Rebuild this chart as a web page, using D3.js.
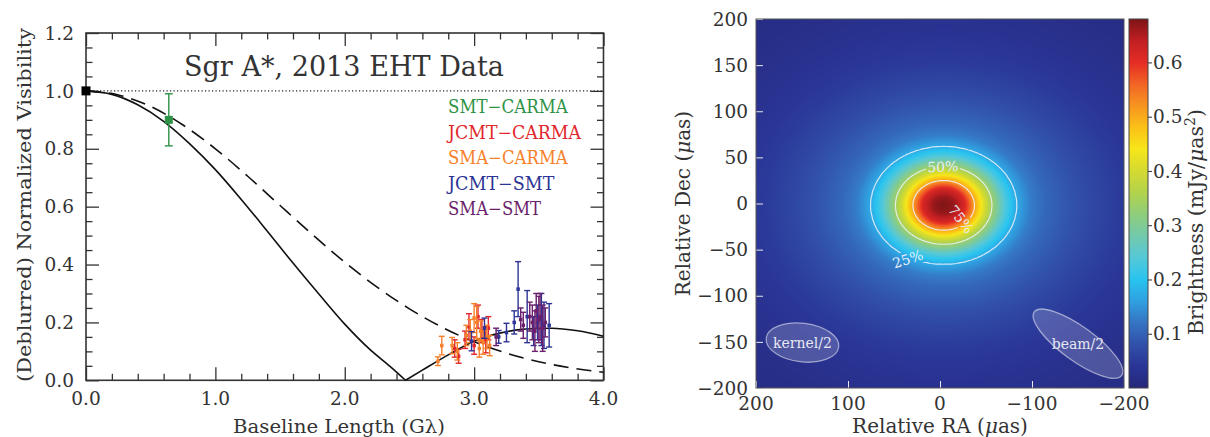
<!DOCTYPE html>
<html>
<head>
<meta charset="utf-8">
<script src="https://cdn.jsdelivr.net/npm/d3@7"></script>
<style>
body { margin: 0; background: #fff; }
svg text { font-family: "DejaVu Serif", serif; fill: #333; }
</style>
</head>
<body>
<svg id="chart" width="1210" height="437"></svg>
<script>
// ---------- left panel: visibility vs baseline ----------
const solidMainB = [0, 0.2, 0.4, 0.6, 0.8, 1.0, 1.2, 1.4, 1.6, 1.8, 2.0, 2.2, 2.35, 2.47];
const solidMainV = [1.0, 0.988, 0.952, 0.895, 0.818, 0.728, 0.625, 0.516, 0.405, 0.298, 0.194, 0.104, 0.048, 0.0];
const solidLobeB = [2.47, 2.6, 2.8, 3.0, 3.2, 3.4, 3.6, 3.8, 4.0];
const solidLobeV = [0.0, 0.035, 0.088, 0.135, 0.163, 0.177, 0.18, 0.171, 0.152];
const dashB = [0, 0.25, 0.5, 0.75, 1.0, 1.25, 1.5, 1.75, 2.0, 2.25, 2.5, 2.75, 3.0, 3.25, 3.5, 3.75, 4.0];
const dashV = [1.0, 0.986, 0.946, 0.882, 0.80, 0.705, 0.604, 0.504, 0.408, 0.322, 0.247, 0.184, 0.133, 0.094, 0.064, 0.043, 0.028];

const zeroBaseline = [0, 1.0];
// [baseline (Gλ), visibility, error]
const smtCarma = [[0.64, 0.90, 0.09]];
const jcmtCarma = [[2.85, 0.11, 0.03], [2.88, 0.083, 0.024], [2.93, 0.14, 0.03], [2.96, 0.185, 0.045],
  [3.0, 0.12, 0.03], [3.03, 0.22, 0.04], [3.06, 0.17, 0.04], [3.09, 0.14, 0.045], [3.11, 0.18, 0.04]];
const smaCarma = [[2.72, 0.066, 0.015], [2.75, 0.12, 0.032], [2.83, 0.12, 0.028], [2.87, 0.10, 0.03],
  [2.94, 0.155, 0.035], [2.97, 0.17, 0.04], [3.0, 0.215, 0.05], [3.02, 0.20, 0.055], [3.04, 0.11, 0.03],
  [3.05, 0.17, 0.035], [3.07, 0.13, 0.04], [3.10, 0.15, 0.04], [3.12, 0.12, 0.035]];
const jcmtSmt = [[2.98, 0.135, 0.033], [3.08, 0.18, 0.035], [3.19, 0.15, 0.022], [3.25, 0.165, 0.032],
  [3.31, 0.20, 0.04], [3.34, 0.315, 0.095], [3.41, 0.22, 0.09], [3.46, 0.17, 0.05], [3.49, 0.20, 0.06],
  [3.52, 0.21, 0.09], [3.54, 0.19, 0.08], [3.58, 0.19, 0.075]];
const smaSmt = [[3.17, 0.15, 0.03], [3.36, 0.21, 0.04], [3.38, 0.19, 0.045], [3.43, 0.22, 0.05],
  [3.45, 0.20, 0.06], [3.47, 0.17, 0.07], [3.48, 0.24, 0.06], [3.50, 0.21, 0.08], [3.51, 0.22, 0.08],
  [3.53, 0.18, 0.08], [3.55, 0.20, 0.05]];

const baselineNames = ["SMT\u2212CARMA", "JCMT\u2212CARMA", "SMA\u2212CARMA", "JCMT\u2212SMT", "SMA\u2212SMT"];
const baselineColors = ["#2e9346", "#e2262c", "#f7802a", "#2d3495", "#6b1f6c"];
const baselineData = [smtCarma, jcmtCarma, smaCarma, jcmtSmt, smaSmt];

const xTicksL = [0, 1, 2, 3, 4];
const xTickLabelsL = ["0.0", "1.0", "2.0", "3.0", "4.0"];
const yTicksL = [0, 0.2, 0.4, 0.6, 0.8, 1.0, 1.2];
const yTickLabelsL = ["0.0", "0.2", "0.4", "0.6", "0.8", "1.0", "1.2"];

// ---------- right panel: image ----------
// radial brightness profile (µas, mJy/µas²)
const profileR = [0, 10, 20, 30, 40, 47, 60, 71, 85, 100, 120, 140, 170, 210, 260, 320];
const profileV = [0.68, 0.665, 0.62, 0.51, 0.405, 0.34, 0.235, 0.17, 0.128, 0.105, 0.087, 0.071, 0.05, 0.033, 0.02, 0.012];
const blobRa = -4, blobDec = -2;          // centre of the blob
const blobStretchRa = 1.115, blobStretchDec = 0.897;

const raTicks = [200, 100, 0, -100, -200];
const raTickLabels = ["200", "100", "0", "\u2212100", "\u2212200"];
const decTicks = [200, 150, 100, 50, 0, -50, -100, -150, -200];
const decTickLabels = ["200", "150", "100", "50", "0", "\u221250", "\u2212100", "\u2212150", "\u2212200"];
const cbTicks = [0.1, 0.2, 0.3, 0.4, 0.5, 0.6];
const cbTickLabels = ["0.1", "0.2", "0.3", "0.4", "0.5", "0.6"];
const cbMax = 0.68;

const cmapValues = [0, 0.04, 0.08, 0.12, 0.16, 0.20, 0.24, 0.28, 0.32, 0.36, 0.40, 0.44, 0.48, 0.52, 0.56, 0.60, 0.64, 0.68];
const cmapColors = ["#25287a", "#2a3596", "#3150a9", "#3574c2", "#2fa0e0", "#28c4f0", "#55c8d8", "#72c9ac",
  "#8fcd7c", "#b2d34c", "#d4da30", "#f6e61a", "#fbc116", "#f79520", "#f26424", "#e52d25", "#c11f22", "#7e1416"];

const contourLevels = [0.17, 0.34, 0.51];
const contourLabels = ["25%", "50%", "75%"];
const contourLabelRa = [35, -3, -23];
const contourLabelDec = [-60, 40, -17];
const contourLabelAngle = [-18, -2, 52];

const ellipseNames = ["kernel/2", "beam/2"];
const ellipseRa = [149.5, -150];
const ellipseDec = [-150.7, -152];
const ellipseMajor = [39.7, 58.7];
const ellipseMinor = [21, 18.5];
const ellipseAngle = [7, 36];

const svg = d3.select("#chart");

// ===================== LEFT PANEL =====================
const xL = d3.scaleLinear().domain([0, 4]).range([86, 603.5]);
const yL = d3.scaleLinear().domain([0, 1.2]).range([380.3, 33]);
const left = svg.append("g");

function ticks(axis, transform, size) {
  left.append("g").attr("transform", transform)
    .call(axis.tickSize(size).tickFormat(""))
    .call(g => g.select(".domain").remove())
    .selectAll("line").attr("stroke", "#333").attr("stroke-width", 1.3);
}
const xMinor = d3.range(0, 4.001, 0.2).filter(v => Math.abs(v - Math.round(v)) > 1e-6);
const yMinor = d3.range(0, 1.2001, 0.05).filter(v => Math.abs(v / 0.2 - Math.round(v / 0.2)) > 1e-6);
ticks(d3.axisBottom(xL).tickValues(xTicksL), `translate(0,${yL(0)})`, -13);
ticks(d3.axisBottom(xL).tickValues(xMinor), `translate(0,${yL(0)})`, -6.5);
ticks(d3.axisTop(xL).tickValues(xTicksL), `translate(0,${yL(1.2)})`, -13);
ticks(d3.axisTop(xL).tickValues(xMinor), `translate(0,${yL(1.2)})`, -6.5);
ticks(d3.axisLeft(yL).tickValues(yTicksL), `translate(${xL(0)},0)`, -13);
ticks(d3.axisLeft(yL).tickValues(yMinor), `translate(${xL(0)},0)`, -6.5);
ticks(d3.axisRight(yL).tickValues(yTicksL), `translate(${xL(4)},0)`, -13);
ticks(d3.axisRight(yL).tickValues(yMinor), `translate(${xL(4)},0)`, -6.5);

left.append("rect")
  .attr("x", xL(0)).attr("y", yL(1.2))
  .attr("width", xL(4) - xL(0)).attr("height", yL(0) - yL(1.2))
  .attr("fill", "none").attr("stroke", "#333").attr("stroke-width", 1.6);

left.selectAll(".xtl").data(xTicksL).enter().append("text")
  .attr("x", d => xL(d)).attr("y", 405)
  .attr("text-anchor", "middle").attr("font-size", 18.5)
  .text((d, i) => xTickLabelsL[i]);
left.selectAll(".ytl").data(yTicksL).enter().append("text")
  .attr("x", 74).attr("y", d => yL(d)).attr("dy", "0.36em")
  .attr("text-anchor", "end").attr("font-size", 18.5)
  .text((d, i) => yTickLabelsL[i]);

left.append("text").attr("x", 339).attr("y", 433).attr("text-anchor", "middle")
  .attr("font-size", 19).attr("textLength", 212).attr("lengthAdjust", "spacingAndGlyphs")
  .text("Baseline Length (G\u03bb)");
left.append("text").attr("transform", "translate(31,205) rotate(-90)").attr("text-anchor", "middle")
  .attr("font-size", 19).attr("textLength", 354).attr("lengthAdjust", "spacingAndGlyphs")
  .text("(Deblurred) Normalized Visibility");

left.append("text").attr("x", 184).attr("y", 76).attr("font-size", 27)
  .attr("textLength", 320).attr("lengthAdjust", "spacingAndGlyphs")
  .text("Sgr A*, 2013 EHT Data");

// dotted unity line
left.append("line")
  .attr("x1", xL(0)).attr("x2", xL(4)).attr("y1", yL(1)).attr("y2", yL(1))
  .attr("stroke", "#222").attr("stroke-width", 1.2).attr("stroke-dasharray", "1.2,2.3");

// model curves
const lineL = d3.line().x(d => xL(d[0])).y(d => yL(d[1])).curve(d3.curveMonotoneX);
left.append("path").datum(dashB.map((b, i) => [b, dashV[i]]))
  .attr("d", lineL).attr("fill", "none").attr("stroke", "#111")
  .attr("stroke-width", 1.6).attr("stroke-dasharray", "15,8");
left.append("path").datum(solidMainB.map((b, i) => [b, solidMainV[i]]))
  .attr("d", lineL).attr("fill", "none").attr("stroke", "#111").attr("stroke-width", 1.6);
left.append("path").datum(solidLobeB.map((b, i) => [b, solidLobeV[i]]))
  .attr("d", lineL).attr("fill", "none").attr("stroke", "#111").attr("stroke-width", 1.6);

// error bars
baselineData.forEach((set, k) => {
  const big = k === 0;
  const cap = big ? 4 : 3;
  const ms = big ? 8 : 3.5;
  const g = left.append("g").attr("stroke", baselineColors[k]).attr("fill", baselineColors[k]);
  set.forEach(p => {
    const x = xL(p[0]), y0 = yL(p[1] - p[2]), y1 = yL(p[1] + p[2]);
    g.append("line").attr("x1", x).attr("x2", x).attr("y1", y0).attr("y2", y1).attr("stroke-width", 1.4);
    g.append("line").attr("x1", x - cap).attr("x2", x + cap).attr("y1", y0).attr("y2", y0).attr("stroke-width", 1.4);
    g.append("line").attr("x1", x - cap).attr("x2", x + cap).attr("y1", y1).attr("y2", y1).attr("stroke-width", 1.4);
    g.append("rect").attr("x", x - ms / 2).attr("y", yL(p[1]) - ms / 2)
      .attr("width", ms).attr("height", ms).attr("stroke", "none");
  });
});
left.append("rect")
  .attr("x", xL(zeroBaseline[0]) - 4.5).attr("y", yL(zeroBaseline[1]) - 4.5)
  .attr("width", 9).attr("height", 9).attr("fill", "#000");

// legend
baselineNames.forEach((name, i) => {
  left.append("text").attr("x", 448).attr("y", 113 + i * 25.5)
    .attr("font-size", 18).style("fill", baselineColors[i])
    .attr("textLength", name.length * 13.3).attr("lengthAdjust", "spacingAndGlyphs")
    .text(name);
});

// ===================== RIGHT PANEL =====================
const raS = d3.scaleLinear().domain([200, -200]).range([756, 1124]);
const decS = d3.scaleLinear().domain([200, -200]).range([19, 388]);
const profile = d3.scaleLinear().domain(profileR).range(profileV).clamp(true);
const cmap = d3.scaleLinear().domain(cmapValues).range(cmapColors).clamp(true);

function brightness(ra, dec) {
  const dx = (ra - blobRa) / blobStretchRa, dy = (dec - blobDec) / blobStretchDec;
  return profile(Math.hypot(dx, dy));
}

const imgW = Math.round(raS(-200) - raS(200)), imgH = Math.round(decS(-200) - decS(200));
const canvas = document.createElement("canvas");
canvas.width = imgW; canvas.height = imgH;
const ctx = canvas.getContext("2d");
const img = ctx.createImageData(imgW, imgH);
for (let j = 0; j < imgH; j++) {
  const dec = decS.invert(decS(200) + j + 0.5);
  for (let i = 0; i < imgW; i++) {
    const ra = raS.invert(raS(200) + i + 0.5);
    const c = d3.rgb(cmap(brightness(ra, dec)));
    const o = (j * imgW + i) * 4;
    img.data[o] = c.r; img.data[o + 1] = c.g; img.data[o + 2] = c.b; img.data[o + 3] = 255;
  }
}
ctx.putImageData(img, 0, 0);

const right = svg.append("g");
right.append("image")
  .attr("x", raS(200)).attr("y", decS(200)).attr("width", imgW).attr("height", imgH)
  .attr("preserveAspectRatio", "none")
  .attr("href", canvas.toDataURL());

// contours with inline-label gaps
const defs = svg.append("defs");
const mask = defs.append("mask").attr("id", "clab").attr("maskUnits", "userSpaceOnUse")
  .attr("x", 0).attr("y", 0).attr("width", 1210).attr("height", 437);
mask.append("rect").attr("width", 1210).attr("height", 437).attr("fill", "white");
contourLabels.forEach((t, i) => {
  mask.append("rect").attr("x", -17).attr("y", -8).attr("width", 34).attr("height", 16).attr("fill", "black")
    .attr("transform", `translate(${raS(contourLabelRa[i])},${decS(contourLabelDec[i])}) rotate(${contourLabelAngle[i]})`);
});

const n = 201, step = 400 / (n - 1);
const grid = new Array(n * n);
for (let j = 0; j < n; j++) for (let i = 0; i < n; i++) grid[j * n + i] = brightness(200 - i * step, 200 - j * step);
const contours = d3.contours().size([n, n]).thresholds(contourLevels)(grid);
const cpath = d3.geoPath(d3.geoTransform({
  point(x, y) { this.stream.point(raS(200 - (x - 0.5) * step), decS(200 - (y - 0.5) * step)); }
}));
right.append("g").attr("mask", "url(#clab)").selectAll("path").data(contours).enter().append("path")
  .attr("d", cpath).attr("fill", "none").attr("stroke", "#eef2fa").attr("stroke-opacity", 0.85).attr("stroke-width", 1.2);
contourLabels.forEach((t, i) => {
  right.append("text").attr("transform", `translate(${raS(contourLabelRa[i])},${decS(contourLabelDec[i])}) rotate(${contourLabelAngle[i]})`)
    .attr("text-anchor", "middle").attr("dy", "0.36em").attr("font-size", 14)
    .style("fill", "#e8eef8").text(t);
});

// kernel / beam ellipses
ellipseNames.forEach((name, i) => {
  const cx = raS(ellipseRa[i]), cy = decS(ellipseDec[i]);
  right.append("ellipse").attr("cx", 0).attr("cy", 0)
    .attr("rx", raS(0) - raS(ellipseMajor[i])).attr("ry", raS(0) - raS(ellipseMinor[i]))
    .attr("transform", `translate(${cx},${cy}) rotate(${ellipseAngle[i]})`)
    .attr("fill", "#ffffff").attr("fill-opacity", 0.18)
    .attr("stroke", "#ffffff").attr("stroke-opacity", 0.5).attr("stroke-width", 1.3);
  right.append("text").attr("x", cx).attr("y", cy).attr("dy", "0.36em").attr("text-anchor", "middle")
    .attr("font-size", 14).style("fill", "#e6e8f2").text(name);
});

// inward light ticks
right.append("g").attr("transform", `translate(0,${decS(-200)})`)
  .call(d3.axisBottom(raS).tickValues(raTicks).tickSize(-7).tickFormat(""))
  .call(g => g.select(".domain").remove())
  .selectAll("line").attr("stroke", "#e8e8f0").attr("stroke-width", 1);
right.append("g").attr("transform", `translate(${raS(200)},0)`)
  .call(d3.axisLeft(decS).tickValues(decTicks).tickSize(-7).tickFormat(""))
  .call(g => g.select(".domain").remove())
  .selectAll("line").attr("stroke", "#e8e8f0").attr("stroke-width", 1);

right.append("rect")
  .attr("x", raS(200)).attr("y", decS(200)).attr("width", imgW).attr("height", imgH)
  .attr("fill", "none").attr("stroke", "#555").attr("stroke-width", 1);

right.selectAll(".rtl").data(raTicks).enter().append("text")
  .attr("x", d => raS(d)).attr("y", 410).attr("text-anchor", "middle").attr("font-size", 18.5)
  .text((d, i) => raTickLabels[i]);
right.selectAll(".dtl").data(decTicks).enter().append("text")
  .attr("x", 748).attr("y", d => decS(d)).attr("dy", "0.36em").attr("text-anchor", "end").attr("font-size", 18.5)
  .text((d, i) => decTickLabels[i]);

const raLab = right.append("text").attr("x", 940).attr("y", 433).attr("text-anchor", "middle").attr("font-size", 20);
raLab.append("tspan").text("Relative RA (");
raLab.append("tspan").attr("font-style", "italic").text("\u03bc");
raLab.append("tspan").text("as)");
const decLab = right.append("text").attr("transform", "translate(690,203.5) rotate(-90)")
  .attr("text-anchor", "middle").attr("font-size", 20);
decLab.append("tspan").text("Relative Dec (");
decLab.append("tspan").attr("font-style", "italic").text("\u03bc");
decLab.append("tspan").text("as)");

// colorbar
const cbS = d3.scaleLinear().domain([0, cbMax]).range([388, 19]);
const grad = defs.append("linearGradient").attr("id", "cbgrad")
  .attr("x1", 0).attr("y1", 1).attr("x2", 0).attr("y2", 0);
cmapValues.forEach((v, i) => grad.append("stop").attr("offset", v / cbMax).attr("stop-color", cmapColors[i]));
right.append("rect").attr("x", 1129).attr("y", cbS(cbMax)).attr("width", 19).attr("height", cbS(0) - cbS(cbMax))
  .attr("fill", "url(#cbgrad)").attr("stroke", "#444").attr("stroke-width", 1);
right.append("g").attr("transform", "translate(1148,0)")
  .call(d3.axisRight(cbS).tickValues(cbTicks).tickSize(4).tickFormat(""))
  .call(g => g.select(".domain").remove())
  .selectAll("line").attr("stroke", "#333");
right.selectAll(".ctl").data(cbTicks).enter().append("text")
  .attr("x", 1153).attr("y", d => cbS(d)).attr("dy", "0.36em").attr("font-size", 18.5)
  .text((d, i) => cbTickLabels[i]);
const cbLab = right.append("text").attr("transform", "translate(1203,222) rotate(-90)")
  .attr("text-anchor", "middle").attr("font-size", 20.5);
cbLab.append("tspan").text("Brightness (mJy/");
cbLab.append("tspan").attr("font-style", "italic").text("\u03bc");
cbLab.append("tspan").text("as");
cbLab.append("tspan").attr("dy", -8).attr("font-size", 14).text("2");
cbLab.append("tspan").attr("dy", 8).text(")");
</script>
</body>
</html>
